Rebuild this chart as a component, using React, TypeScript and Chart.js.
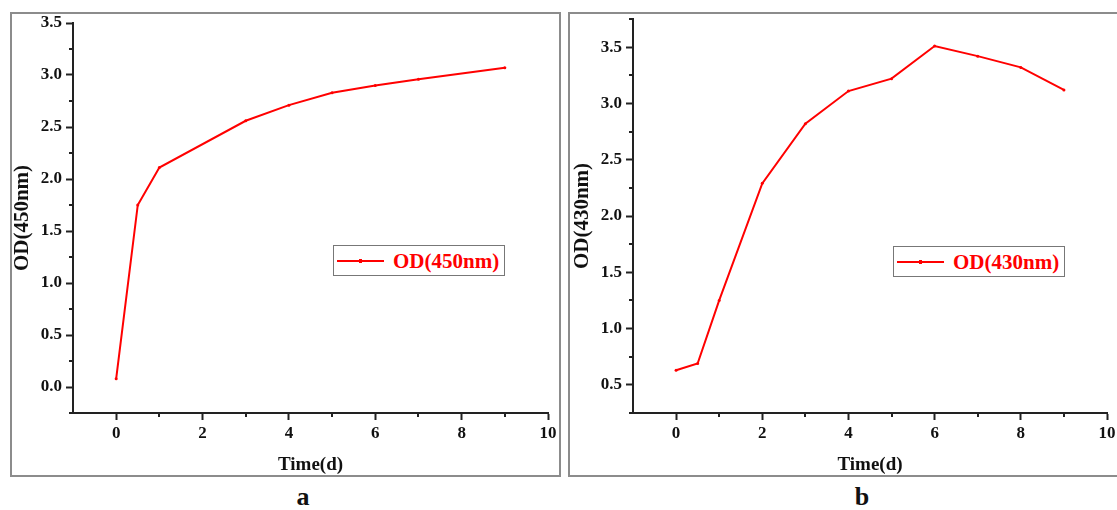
import React, { useEffect, useRef } from 'react';
import { Chart, registerables } from 'chart.js';

Chart.register(...registerables);

// ---- Data ----
const timeA = [0, 0.5, 1, 3, 4, 5, 6, 7, 9];
const od450 = [0.08, 1.75, 2.11, 2.56, 2.71, 2.83, 2.9, 2.96, 3.07];

const timeB = [0, 0.5, 1, 2, 3, 4, 5, 6, 7, 8, 9];
const od430 = [0.63, 0.69, 1.25, 2.29, 2.82, 3.11, 3.22, 3.51, 3.42, 3.32, 3.12];

const xMajorTicks = [0, 2, 4, 6, 8, 10];
const xMinorTicks = [1, 3, 5, 7, 9];
const yMajorA = [0, 0.5, 1, 1.5, 2, 2.5, 3, 3.5];
const yMinorA = [-0.25, 0.25, 0.75, 1.25, 1.75, 2.25, 2.75, 3.25];
const yMajorB = [0.5, 1, 1.5, 2, 2.5, 3, 3.5];
const yMinorB = [0.25, 0.75, 1.25, 1.75, 2.25, 2.75, 3.25, 3.75];

const FONT = "'Liberation Serif', 'Times New Roman', serif";
const AXIS = '#222222';

const minorTickPlugin = {
  id: 'minorTicks',
  afterDraw(chart: any, _args: any, opts: any) {
    const ctx = chart.ctx;
    const xs = chart.scales.x;
    const ys = chart.scales.y;
    ctx.save();
    ctx.strokeStyle = AXIS;
    ctx.lineWidth = 2;
    ctx.beginPath();
    (opts.x || []).forEach((v: number) => {
      const px = Math.round(xs.getPixelForValue(v));
      ctx.moveTo(px, xs.top);
      ctx.lineTo(px, xs.top + 4);
    });
    (opts.y || []).forEach((v: number) => {
      const py = Math.round(ys.getPixelForValue(v));
      ctx.moveTo(ys.right, py);
      ctx.lineTo(ys.right - 4, py);
    });
    ctx.stroke();
    ctx.restore();
  },
};

type Cfg = {
  xs: number[];
  ys: number[];
  label: string;
  yMin: number;
  yMax: number;
  yMajor: number[];
  yMinor: number[];
  yWidth: number;
  padTop: number;
  padRight: number;
  yTitlePad: number;
};

function OdChart({ cfg, width, height }: { cfg: Cfg; width: number; height: number }) {
  const ref = useRef<HTMLCanvasElement | null>(null);
  useEffect(() => {
    if (!ref.current) return;
    const tickFont = { family: FONT, size: 17, weight: 'bold' as const };
    const xTitleFont = { family: FONT, size: 19, weight: 'bold' as const };
    const yTitleFont = { family: FONT, size: 21, weight: 'bold' as const };
    const chart = new Chart(ref.current, {
      type: 'line',
      data: {
        datasets: [
          {
            label: cfg.label,
            data: cfg.xs.map((x, i) => ({ x, y: cfg.ys[i] })),
            borderColor: '#ff0000',
            backgroundColor: '#ff0000',
            borderWidth: 2,
            pointRadius: 1.5,
            pointBackgroundColor: '#ff0000',
            pointBorderWidth: 0,
            tension: 0,
            fill: false,
          },
        ],
      },
      options: {
        responsive: false,
        animation: false,
        devicePixelRatio: 1,
        layout: { padding: { left: 0, top: cfg.padTop, right: cfg.padRight, bottom: 0 } },
        plugins: {
          legend: { display: false },
          tooltip: { enabled: false },
          minorTicks: { x: xMinorTicks, y: cfg.yMinor },
        } as any,
        scales: {
          x: {
            type: 'linear',
            min: -1,
            max: 10,
            afterBuildTicks: (s: any) => {
              s.ticks = xMajorTicks.map((v) => ({ value: v }));
            },
            afterFit: (s: any) => {
              s.height = 63;
              s.paddingLeft = 0;
              s.paddingRight = 0;
            },
            grid: {
              drawOnChartArea: false,
              tickLength: 7,
              tickWidth: 2,
              tickColor: AXIS,
            },
            border: { display: true, color: AXIS, width: 2 },
            ticks: {
              font: tickFont,
              color: '#111',
              padding: 3,
              maxRotation: 0,
              autoSkip: false,
              callback: (v: any) => String(v),
            },
            title: {
              display: true,
              text: 'Time(d)',
              font: xTitleFont,
              color: '#111',
              padding: { top: 0, bottom: 0 },
            },
          },
          y: {
            type: 'linear',
            min: cfg.yMin,
            max: cfg.yMax,
            afterBuildTicks: (s: any) => {
              s.ticks = cfg.yMajor.map((v) => ({ value: v }));
            },
            afterFit: (s: any) => {
              s.width = cfg.yWidth;
              s.paddingTop = 0;
              s.paddingBottom = 0;
            },
            grid: {
              drawOnChartArea: false,
              tickLength: 7,
              tickWidth: 2,
              tickColor: AXIS,
            },
            border: { display: true, color: AXIS, width: 2 },
            ticks: {
              font: tickFont,
              color: '#111',
              padding: 4,
              autoSkip: false,
              callback: (v: any) => Number(v).toFixed(1),
            },
            title: {
              display: true,
              text: cfg.label,
              font: yTitleFont,
              color: '#111',
              padding: { top: cfg.yTitlePad, bottom: 0 },
            },
          },
        },
      },
      plugins: [minorTickPlugin],
    } as any);
    return () => chart.destroy();
  }, [cfg]);
  return <canvas ref={ref} width={width} height={height} style={{ width, height, display: 'block' }} />;
}

const cfgA: Cfg = {
  xs: timeA,
  ys: od450,
  label: 'OD(450nm)',
  yMin: -0.25,
  yMax: 3.5,
  yMajor: yMajorA,
  yMinor: yMinorA,
  yWidth: 63,
  padTop: 11,
  padRight: 12,
  yTitlePad: 0,
};

const cfgB: Cfg = {
  xs: timeB,
  ys: od430,
  label: 'OD(430nm)',
  yMin: 0.25,
  yMax: 3.75,
  yMajor: yMajorB,
  yMinor: yMinorB,
  yWidth: 65,
  padTop: 7,
  padRight: 9,
  yTitlePad: 2,
};

function Legend({ left, top, text }: { left: number; top: number; text: string }) {
  return (
    <div
      style={{
        position: 'absolute',
        left,
        top,
        width: 172,
        height: 31,
        border: '1px solid #777',
        boxSizing: 'border-box',
        background: '#fff',
      }}
    >
      <div style={{ position: 'absolute', left: 3, top: 14, width: 47, height: 2, background: '#ff0000' }} />
      <div style={{ position: 'absolute', left: 25, top: 13, width: 3, height: 4, background: '#ff0000' }} />
      <div
        style={{
          position: 'absolute',
          left: 59,
          top: 1,
          fontFamily: FONT,
          fontWeight: 'bold',
          fontSize: 21,
          lineHeight: '28px',
          color: '#ff0000',
          whiteSpace: 'nowrap',
        }}
      >
        {text}
      </div>
    </div>
  );
}

export default function App() {
  return (
    <div style={{ position: 'absolute', left: 0, top: 0, width: 1117, height: 510, background: '#fff', overflow: 'hidden' }}>
      <div style={{ position: 'absolute', left: 10, top: 12 }}>
        <OdChart cfg={cfgA} width={550} height={464} />
      </div>
      <div
        style={{
          position: 'absolute',
          left: 10,
          top: 12,
          width: 551,
          height: 465,
          border: '2px solid #8c8c8c',
          boxSizing: 'border-box',
          pointerEvents: 'none',
        }}
      />
      <div style={{ position: 'absolute', left: 568, top: 12 }}>
        <OdChart cfg={cfgB} width={548} height={464} />
      </div>
      <div
        style={{
          position: 'absolute',
          left: 568,
          top: 12,
          width: 552,
          height: 465,
          border: '2px solid #8c8c8c',
          boxSizing: 'border-box',
          pointerEvents: 'none',
        }}
      />
      <Legend left={333} top={245} text="OD(450nm)" />
      <Legend left={893} top={246} text="OD(430nm)" />
      <div
        style={{
          position: 'absolute',
          left: 283,
          top: 484,
          width: 40,
          textAlign: 'center',
          fontFamily: FONT,
          fontWeight: 'bold',
          fontSize: 26,
          lineHeight: '26px',
          color: '#111',
        }}
      >
        a
      </div>
      <div
        style={{
          position: 'absolute',
          left: 842,
          top: 484,
          width: 40,
          textAlign: 'center',
          fontFamily: FONT,
          fontWeight: 'bold',
          fontSize: 26,
          lineHeight: '26px',
          color: '#111',
        }}
      >
        b
      </div>
    </div>
  );
}
